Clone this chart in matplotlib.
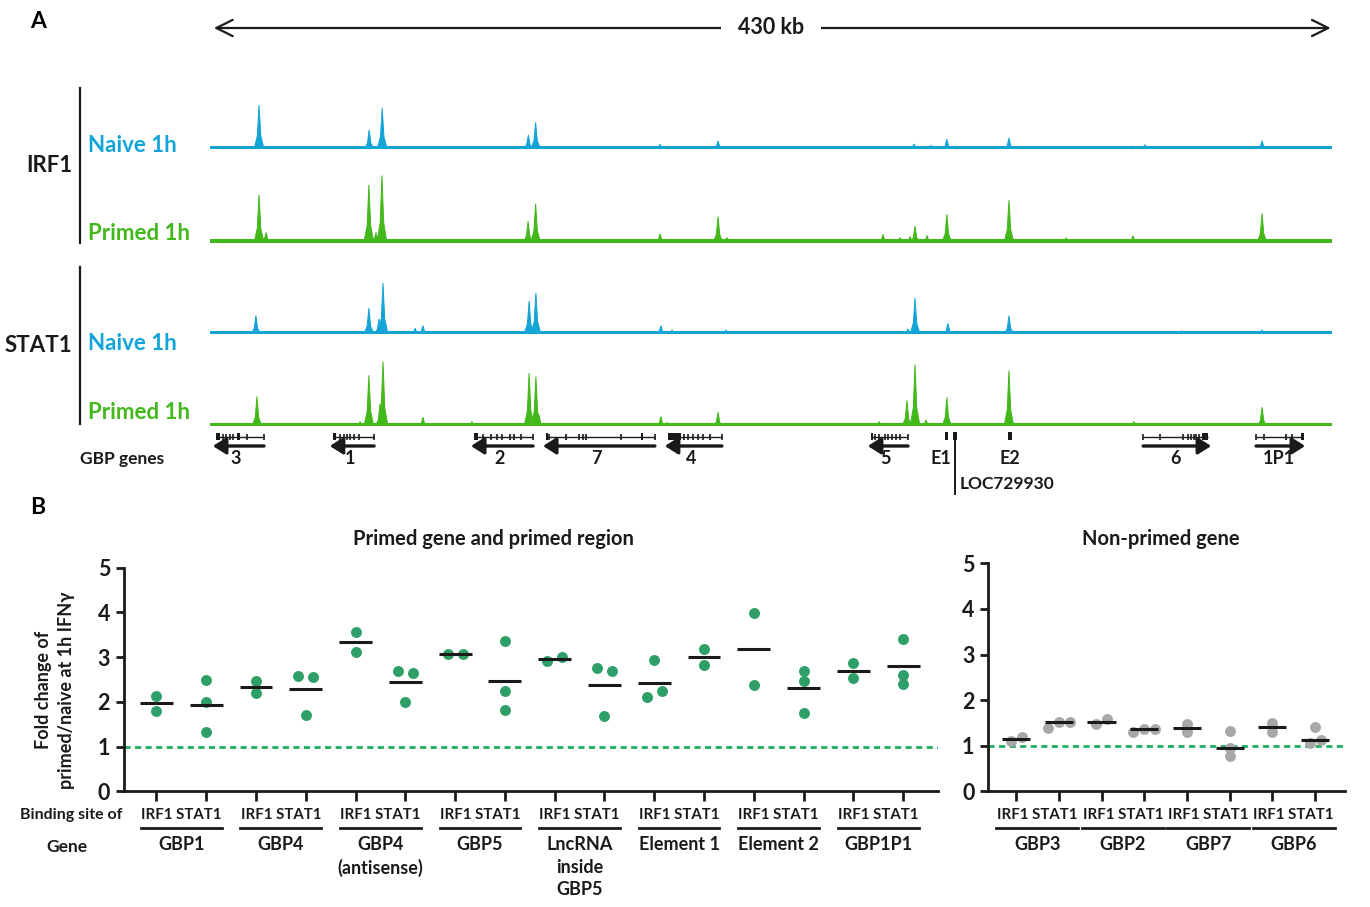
import numpy as np
import matplotlib
matplotlib.use('Agg')
import matplotlib.pyplot as plt
from matplotlib.transforms import blended_transform_factory

plt.rcParams['font.family'] = ['Lato', 'DejaVu Sans']
plt.rcParams['font.weight'] = 'bold'

W, H = 1370, 907
BLUE = '#12A4D6'
GREEN = '#43B81B'
DOT_GREEN = '#2E9F67'
LINE_GREEN = '#1DAF5F'
GRAY = '#A8A8A8'
INK = '#1A1A1A'

# ---- panel A data: ChIP-seq signal peaks (position in kb, height in signal units) ----
REGION_KB = 430
irf1_naive_pos = [18.8, 61.0, 66.0, 122.0, 124.8, 172.5, 194.7, 269.8, 276.3, 282.4, 306.2, 353.4, 358.3, 403.2]
irf1_naive_h = [44, 19, 41, 14, 26.6, 4.7, 8, 5, 3.7, 9.7, 11, 3, 4.3, 8.3]
irf1_primed_pos = [18.8, 21.5, 60.9, 63.6, 65.9, 121.9, 124.8, 172.5, 194.7, 198.1, 257.9, 264.4,
                   268.3, 270.2, 274.8, 282.4, 306.2, 328.1, 353.7, 403.2]
irf1_primed_h = [47.7, 10, 57.7, 10, 67, 21, 38.7, 8.7, 26, 5, 8, 5, 6, 16.3, 7, 28.3, 42.3, 4.7, 6.7, 29]
stat1_naive_pos = [17.6, 60.9, 64.8, 66.3, 78.6, 81.6, 122.3, 124.9, 172.8, 177.1, 197.8, 267.5,
                   270.2, 282.8, 306.2, 372.5, 403.2]
stat1_naive_h = [18.3, 26, 15, 51, 5.7, 8.3, 33, 41, 8.3, 4, 4, 5, 36, 10.7, 18.3, 3.3, 4]
stat1_primed_pos = [18.0, 57.5, 60.9, 65.2, 66.3, 81.6, 100.4, 122.3, 124.9, 126.1, 172.8, 175.1,
                    194.7, 256.4, 267.1, 270.2, 274.4, 282.4, 306.2, 354.1, 403.2]
stat1_primed_h = [30, 5, 51.3, 23, 65, 9.3, 5, 53.3, 50, 11.7, 10, 4.3, 14.3, 5, 26, 62, 6.7, 29, 56, 5, 19.3]

gene_names = ['3', '1', '2', '7', '4', '5', '6', '1P1']
gene_start = [2.3, 47.1, 101.2, 128.8, 175.5, 253.3, 357.6, 400.9]
gene_end = [20.7, 62.9, 123.8, 170.5, 196.2, 267.5, 382.5, 418.5]
gene_strand = [-1, -1, -1, -1, -1, -1, 1, 1]
gene_exons = [
    [5.0, 6.2, 7.5, 8.8, 14.0, 20.7],
    [50.0, 51.2, 52.4, 53.6, 55.0, 57.0, 62.9],
    [104.5, 107.5, 110.0, 112.0, 115.0, 116.5, 119.0, 123.8],
    [130.0, 136.5, 141.5, 143.0, 144.0, 157.5, 170.5],
    [181.5, 183.0, 185.0, 187.0, 189.0, 191.5, 196.2],
    [255.0, 256.5, 258.5, 260.0, 261.5, 263.0, 264.5, 267.5],
    [357.6, 364.0, 373.0, 375.0, 376.0, 377.0, 378.0, 379.0],
    [400.9, 404.0, 412.5, 414.5],
]
gene_thick = [[(2.3, 1.4), (10.3, 1.2)], [(47.1, 1.2)], [(101.2, 1.5)], [(128.8, 0.9), (165.0, 0.8)],
              [(175.5, 5.0)], [(253.3, 0.9)], [(380.0, 2.5)], [(418.0, 1.3)]]
element_names = ['E1', 'E2']
element_pos = [[282.1, 285.5], [306.6]]
loc_pos = 285.5

# ---- panel B data: fold change primed/naive at 1h IFNg ----
primed_genes = ['GBP1', 'GBP4', 'GBP4\n(antisense)', 'GBP5', 'LncRNA\ninside\nGBP5',
                'Element 1', 'Element 2', 'GBP1P1']
primed_irf1 = [[2.14, 1.80], [2.47, 2.19], [3.56, 3.11], [3.07, 3.07], [2.92, 3.01],
               [2.11, 2.93, 2.25], [3.99, 2.37], [2.86, 2.53]]
primed_stat1 = [[2.50, 1.99, 1.33], [2.58, 2.55, 1.70], [2.68, 2.64, 2.00], [3.35, 2.24, 1.82],
                [2.75, 2.70, 1.69], [3.18, 2.82], [2.70, 2.46, 1.74], [3.41, 2.61, 2.41]]
nonprimed_genes = ['GBP3', 'GBP2', 'GBP7', 'GBP6']
nonprimed_irf1 = [[1.11, 1.20], [1.47, 1.59], [1.47, 1.30], [1.49, 1.31]]
nonprimed_stat1 = [[1.38, 1.52, 1.52], [1.30, 1.37, 1.37], [1.32, 0.95, 0.77], [1.07, 1.41, 1.13]]
site_labels = ['IRF1', 'STAT1']

fig = plt.figure(figsize=(W / 100, H / 100), dpi=100)


def px_box(x0, y0, x1, y1):
    # pixel box with top-left origin -> figure rect
    return [x0 / W, 1 - y1 / H, (x1 - x0) / W, (y1 - y0) / H]


def fy(y):
    return 1 - y / H


# ---------------- panel A ----------------
TX0, TX1 = 210, 1332
fig.text(38 / W, fy(22), 'A', fontsize=16.5, ha='center', va='center')

axt = fig.add_axes(px_box(TX0, 10, TX1, 46))
axt.set_xlim(0, REGION_KB)
axt.set_ylim(0, 1)
axt.axis('off')
axt.annotate('', xy=(1.5, 0.5), xytext=(REGION_KB - 0.5, 0.5),
             arrowprops=dict(arrowstyle='<->,head_length=0.9,head_width=0.45', lw=1.6,
                             color=INK, mutation_scale=13, shrinkA=0, shrinkB=0))
axt.text(REGION_KB * 0.5, 0.5, '430 kb', fontsize=15.5, ha='center', va='center',
         color=INK, bbox=dict(boxstyle='square,pad=0.8', fc='white', ec='none'))

tracks = [
    (irf1_naive_pos, irf1_naive_h, BLUE, 149, 2.6),
    (irf1_primed_pos, irf1_primed_h, GREEN, 242.5, 3.4),
    (stat1_naive_pos, stat1_naive_h, BLUE, 334, 2.6),
    (stat1_primed_pos, stat1_primed_h, GREEN, 426.5, 3.4),
]
for pos, hts, col, base, noise in tracks:
    ax = fig.add_axes(px_box(TX0, base - 80, TX1, base))
    ax.set_xlim(0, REGION_KB)
    ax.set_ylim(0, 80)
    ax.axis('off')
    ax.fill_between([0, REGION_KB], 0, noise, color=col, lw=0)
    w = 1.9
    for p, h in zip(pos, hts):
        ax.fill([p - w, p - 0.35 * w, p, p + 0.35 * w, p + w],
                [0, 0.3 * h, h, 0.3 * h, 0], color=col, lw=0.7, ec=col)

# track labels
for txt, y in [('IRF1', 165), ('STAT1', 345)]:
    fig.text(72 / W, fy(y), txt, fontsize=16, ha='right', va='center', color=INK)
for y0, y1 in [(88, 243), (267, 424)]:
    fig.add_artist(plt.Line2D([80 / W, 80 / W], [fy(y0), fy(y1)], color=INK, lw=1.6))
for txt, y, col in [('Naive 1h', 145, BLUE), ('Primed 1h', 234, GREEN),
                    ('Naive 1h', 344, BLUE), ('Primed 1h', 412, GREEN)]:
    fig.text(88 / W, fy(y), txt, fontsize=16, ha='left', va='center', color=col)

# gene track
axg = fig.add_axes(px_box(TX0, 428, TX1, 500))
axg.set_xlim(0, REGION_KB)
axg.set_ylim(500, 428)
axg.axis('off')
GY, AY, LY = 436.5, 446, 458
for name, s, e, strand, exons, thick in zip(gene_names, gene_start, gene_end, gene_strand,
                                              gene_exons, gene_thick):
    axg.plot([s, e], [GY, GY], color=INK, lw=1.0, solid_capstyle='butt')
    axg.vlines(exons, GY - 3, GY + 3, color=INK, lw=1.2)
    for t0, tw in thick:
        axg.fill_between([t0, t0 + tw], GY - 3.5, GY + 3.5, color=INK, lw=0)
    a0, a1 = (e, s - 1.2) if strand < 0 else (s, e + 1.2)
    axg.annotate('', xy=(a1, AY), xytext=(a0, AY),
                 arrowprops=dict(arrowstyle='-|>,head_length=0.6,head_width=0.38', lw=2.4,
                                 color=INK, mutation_scale=13, shrinkA=0, shrinkB=0))
    label_x = (s + e) / 2 - (1.5 if strand < 0 else 0)
    axg.text(label_x, LY, name, fontsize=13, ha='center', va='center', color=INK)
for name, blocks in zip(element_names, element_pos):
    for b in blocks:
        axg.fill_between([b - 0.6, b + 0.6], 432, 440, color=INK, lw=0)
    if name == 'E1':
        axg.text(blocks[-1] - 1.3, LY, name, fontsize=13, ha='right', va='center', color=INK)
    else:
        axg.text(blocks[0], LY, name, fontsize=13, ha='center', va='center', color=INK)
axg.plot([loc_pos, loc_pos], [440, 494], color=INK, lw=1.4)
axg.text(loc_pos + 1.9, 484, 'LOC729930', fontsize=12.5, ha='left', va='center', color=INK)
fig.text(80 / W, fy(459), 'GBP genes', fontsize=12.5, ha='left', va='center', color=INK)

# ---------------- panel B ----------------
fig.text(38 / W, fy(507), 'B', fontsize=16.5, ha='center', va='center')


def swarm_offsets(vals, tol, step):
    clusters = []
    for i, v in enumerate(vals):
        for c in clusters:
            if any(abs(v - vals[j]) < tol for j in c):
                c.append(i)
                break
        else:
            clusters.append([i])
    offs = np.zeros(len(vals))
    for c in clusters:
        for rank, i in enumerate(c):
            offs[i] = (rank - (len(c) - 1) / 2) * step
    return offs


def dot_panel(ax, irf1, stat1, genes, color, center, step, half_line, title, title_x):
    groups = []
    for a, b in zip(irf1, stat1):
        groups += [a, b]
    n = len(groups)
    for i, vals in enumerate(groups):
        offs = swarm_offsets(vals, 0.155, step)
        ax.scatter(i + offs, vals, s=62, color=color, lw=0, zorder=3, clip_on=False)
        ax.hlines(center(vals), i - 0.33, i + 0.33, color=INK, lw=2.2, zorder=4)
    ax.axhline(1, color=LINE_GREEN, lw=2, ls=(0, (2.2, 1.6)), zorder=1)
    ax.set_xlim(-0.65, n - 0.3)
    ax.set_ylim(0, 5)
    ax.set_yticks(range(6))
    ax.set_xticks(range(n))
    ax.set_xticklabels([])
    for sp in ['top', 'right']:
        ax.spines[sp].set_visible(False)
    for sp in ['left', 'bottom']:
        ax.spines[sp].set_linewidth(2)
        ax.spines[sp].set_color(INK)
    ax.tick_params(axis='y', width=2, length=6, labelsize=15.5, color=INK, labelcolor=INK, pad=4)
    ax.tick_params(axis='x', width=2, length=7, color=INK)
    tr = blended_transform_factory(ax.transData, fig.transFigure)
    for g, name in enumerate(genes):
        c = 2 * g + 0.5
        ax.text(c, fy(815), ' '.join(site_labels), transform=tr, fontsize=10.8,
                ha='center', va='center', color=INK)
        ax.add_line(plt.Line2D([c - half_line, c + half_line], [fy(828), fy(828)], transform=tr,
                               color=INK, lw=2, clip_on=False))
        ax.text(c, fy(836), name, transform=tr, fontsize=13, ha='center', va='top',
                color=INK, linespacing=1.4)
    fig.text(title_x / W, fy(539), title, fontsize=14.5, ha='center', va='center', color=INK)


axL = fig.add_axes(px_box(124, 567.7, 938, 791.3))
dot_panel(axL, primed_irf1, primed_stat1, primed_genes, DOT_GREEN, np.mean, 0.30, 0.81,
          'Primed gene and primed region', 493)
axR = fig.add_axes(px_box(988.3, 563.3, 1345, 791.3))
dot_panel(axR, nonprimed_irf1, nonprimed_stat1, nonprimed_genes, GRAY, np.median, 0.26, 0.96,
          'Non-primed gene', 1161)

fig.text(122 / W, fy(815), 'Binding site of', fontsize=11.5, ha='right', va='center', color=INK)
fig.text(67 / W, fy(847), 'Gene', fontsize=12.5, ha='center', va='center', color=INK)
fig.text(55 / W, fy(690), 'Fold change of\nprimed/naive at 1h IFN\u03b3', fontsize=13,
         rotation=90, ha='center', va='center', color=INK, linespacing=1.45)

fig.savefig('out.png', dpi=100)
